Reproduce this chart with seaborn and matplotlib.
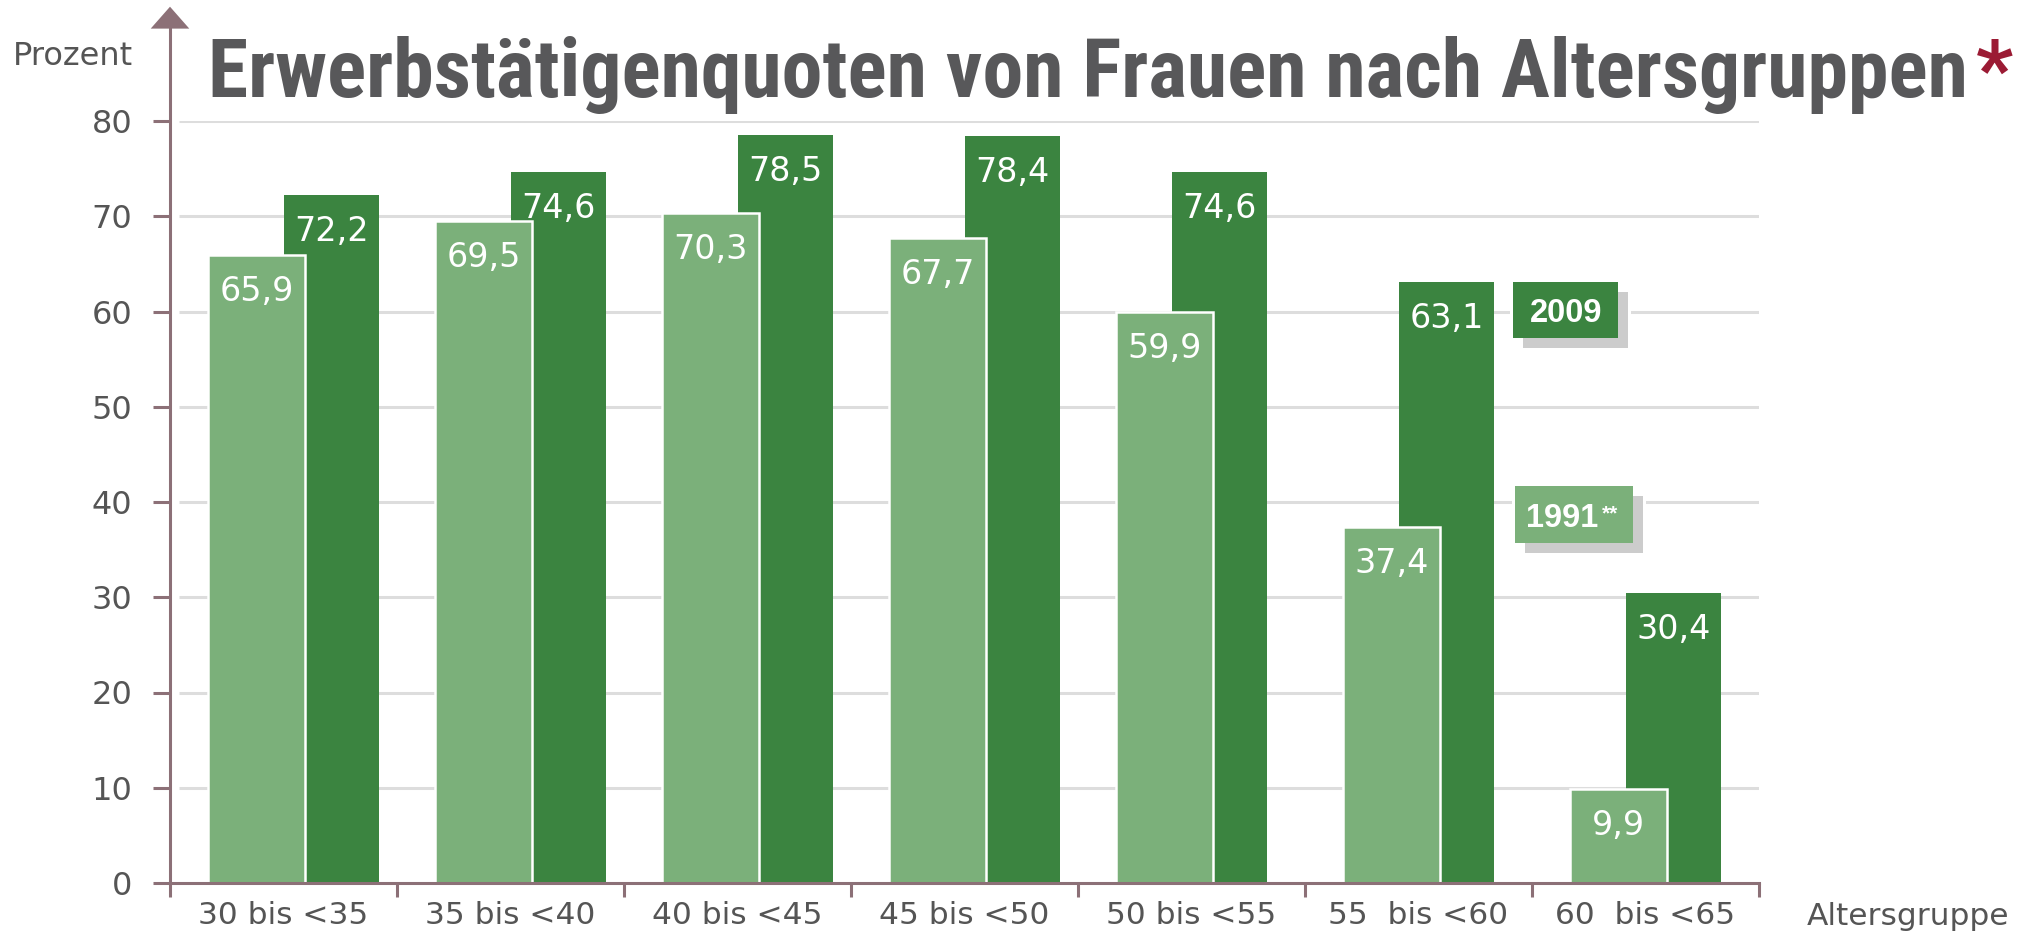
import numpy as np
import pandas as pd
import seaborn as sns
import matplotlib.pyplot as plt
from matplotlib import font_manager
from matplotlib.patches import Rectangle

# --- data -------------------------------------------------------------
groups = ['30 bis <35', '35 bis <40', '40 bis <45', '45 bis <50',
          '50 bis <55', '55  bis <60', '60  bis <65']
q1991 = [65.9, 69.5, 70.3, 67.7, 59.9, 37.4, 9.9]
q2009 = [72.2, 74.6, 78.5, 78.4, 74.6, 63.1, 30.4]
yticks = [0, 10, 20, 30, 40, 50, 60, 70, 80]

# --- layout / style ---------------------------------------------------
light_shift = [-0.119] * 7               # offset from group centre
dark_shift = [0.211] * 4 + [0.124] * 3
light_w, dark_w = 0.427, 0.419

LIGHT = '#7BB07A'
DARK = '#3B8440'
AXIS = '#8C7077'
GRID = '#DDDDDD'
TITLE_C = '#58585A'
TXT = '#555555'
STAR = '#9B1B34'

W, H = 2035, 936
sns.set_theme(style='white')
plt.rcParams['font.family'] = ['DejaVu Sans']

names = {f.name for f in font_manager.fontManager.ttflist}
title_font = next((n for n in ['Liberation Sans Narrow', 'Roboto Condensed',
                               'Open Sans Condensed', 'Liberation Sans']
                   if n in names), 'DejaVu Sans')

fig = plt.figure(figsize=(W / 100, H / 100), dpi=100)
ax = fig.add_axes([170 / W, 1 - 883 / H, (1759 - 170) / W, (883 - 121) / H])

idx = np.arange(len(groups))
df = pd.DataFrame({'gruppe': groups, 'q1991': q1991, 'q2009': q2009,
                   'pos1991': idx + np.array(light_shift),
                   'pos2009': idx + np.array(dark_shift)})


def native_width(pos, w):
    # seaborn scales width by the smallest gap between native positions
    return w / np.diff(np.unique(pos)).min()


ax.hlines(yticks[1:], -0.46, 6.5, color=GRID, lw=2.2, zorder=0)

sns.barplot(data=df, x='pos2009', y='q2009', native_scale=True,
            width=native_width(df['pos2009'], dark_w), color=DARK,
            saturation=1, errorbar=None, linewidth=0, ax=ax, zorder=2)
sns.barplot(data=df, x='pos1991', y='q1991', native_scale=True,
            width=native_width(df['pos1991'], light_w), color=LIGHT,
            saturation=1, errorbar=None, edgecolor='white', linewidth=1.8,
            ax=ax, zorder=2.1)

for cont, vals in zip(ax.containers, [q2009, q1991]):
    labs = ax.bar_label(cont, labels=[f'{v:.1f}'.replace('.', ',') for v in vals],
                        padding=-33, color='white', fontsize=24)
    for t in labs:
        t.set_va('baseline')
        t.set_zorder(4)

ax.set_xlim(-0.5, 6.5)
ax.set_ylim(0, 80)
ax.set_xlabel('')
ax.set_ylabel('')

for s in ['top', 'right', 'left']:
    ax.spines[s].set_visible(False)
ax.spines['bottom'].set_color(AXIS)
ax.spines['bottom'].set_linewidth(2.2)

ax.set_yticks(yticks)
ax.set_yticklabels([str(v) for v in yticks])
ax.tick_params(axis='y', direction='out', length=12, width=2.2, color=AXIS,
               labelsize=23, labelcolor=TXT, pad=15, left=True)
ax.set_xticks(idx)
ax.set_xticklabels(groups)
ax.set_xticks(np.arange(len(groups) + 1) - 0.5, minor=True)
ax.tick_params(axis='x', which='major', length=0, labelsize=22.5,
               labelcolor=TXT, pad=13)
ax.tick_params(axis='x', which='minor', direction='out', length=10,
               width=2.2, color=AXIS, bottom=True)

# y axis line with arrow head
ax.plot([-0.5, -0.5], [0, 90.2], color=AXIS, lw=2.2, clip_on=False,
        solid_capstyle='butt', zorder=3)
ax.fill([-0.5 - 0.085, -0.5 + 0.085, -0.5], [89.7, 89.7, 92.0], color=AXIS,
        clip_on=False, zorder=3, lw=0)

# --- legend boxes (pixel layout) ---------------------------------------
def fx(px):
    return px / W


def fy(py):
    return 1 - py / H


def box(x0, y0, x1, y1, color):
    fig.add_artist(Rectangle((fx(x0 - 3), fy(y1 + 13)), (x1 - x0 + 16) / W,
                             (y1 - y0 + 16) / H, transform=fig.transFigure,
                             color='white', lw=0, zorder=2))
    fig.add_artist(Rectangle((fx(x0 + 10), fy(y1 + 10)), (x1 - x0) / W,
                             (y1 - y0) / H, transform=fig.transFigure,
                             color='#CCCCCC', lw=0, zorder=3))
    fig.add_artist(Rectangle((fx(x0), fy(y1)), (x1 - x0) / W, (y1 - y0) / H,
                             transform=fig.transFigure, color=color, lw=0,
                             zorder=4))


box(1513, 282, 1618, 338, DARK)
fig.text(fx(1566), fy(322), '2009', color='white', fontsize=23.5,
         weight='bold', family='Liberation Sans', ha='center',
         va='baseline', zorder=5)
box(1515, 486, 1633, 543, LIGHT)
fig.text(fx(1526), fy(527), '1991', color='white', fontsize=23.5,
         weight='bold', family='Liberation Sans', ha='left',
         va='baseline', zorder=5)
fig.text(fx(1602), fy(519), '**', color='white', fontsize=15,
         weight='bold', family='Liberation Sans', ha='left',
         va='baseline', zorder=5)

# --- texts ------------------------------------------------------------
fig.text(fx(13), fy(65), 'Prozent', fontsize=23, color=TXT, va='baseline')
fig.text(fx(1807), fy(925), 'Altersgruppe', fontsize=22.5, color=TXT,
         va='baseline')

title = fig.text(fx(208), fy(97), 'Erwerbstätigenquoten von Frauen nach Altersgruppen',
                 fontsize=54, weight='bold', family=title_font, color=TITLE_C,
                 va='baseline')
r = fig.canvas.get_renderer()
bb = title.get_window_extent(r)
title.set_fontsize(54 * 1758 / bb.width)
bb = title.get_window_extent(r)
fig.text((bb.x1 + 8) / W, fy(97), '*', fontsize=title.get_fontsize(),
         weight='bold', family=title_font, color=STAR, va='baseline')

fig.savefig('out.png', dpi=100)
